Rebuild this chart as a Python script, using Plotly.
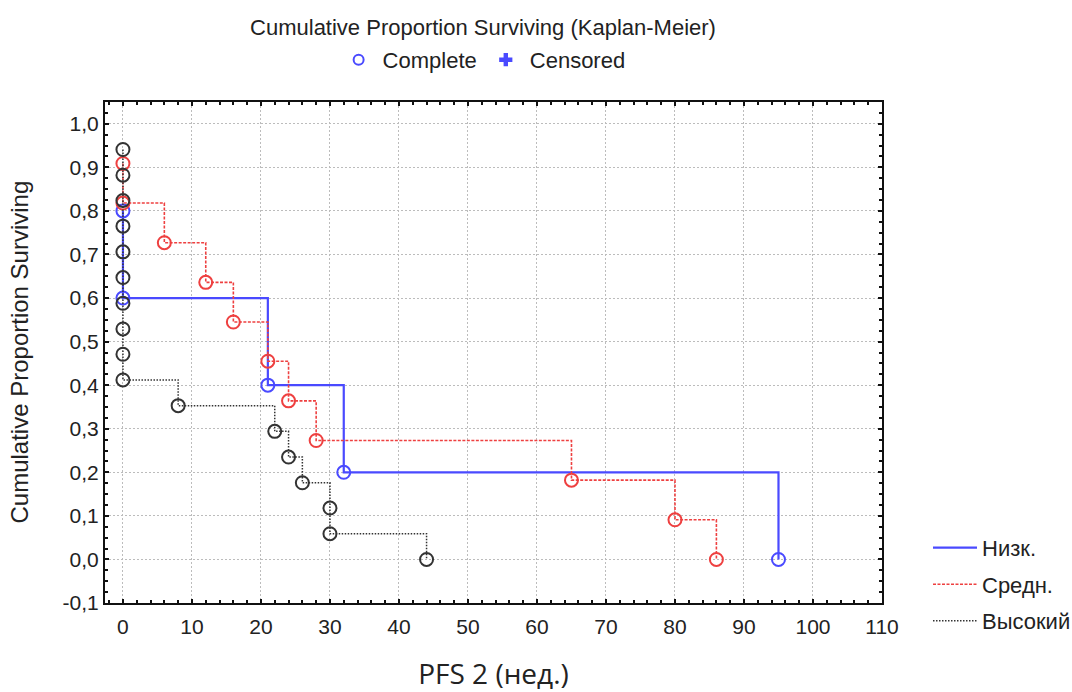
import plotly.graph_objects as go

# ---- data ----
series_names = ["Низк.", "Средн.", "Высокий"]
low_t = [0, 0, 21, 32, 95]
low_s = [0.8, 0.6, 0.4, 0.2, 0.0]
mid_t = [0, 0, 6, 12, 16, 21, 24, 28, 65, 80, 86]
mid_s = [0.909, 0.818, 0.727, 0.636, 0.545, 0.455, 0.364, 0.273, 0.182, 0.091, 0.0]
high_t = [0, 0, 0, 0, 0, 0, 0, 0, 0, 0, 8, 22, 24, 26, 30, 30, 44]
high_s = [0.941, 0.882, 0.824, 0.765, 0.706, 0.647, 0.588, 0.529, 0.471, 0.412,
          0.353, 0.294, 0.235, 0.176, 0.118, 0.059, 0.0]
marker_legend = ["Complete", "Censored"]

x_ticks = list(range(0, 111, 10))
y_ticks = [round(-0.1 + 0.1 * i, 1) for i in range(12)]
y_ticktext = [f"{v:.1f}".replace(".", ",") for v in y_ticks]

BLUE = "#4a4aff"
RED = "#ee4040"
DARK = "#333333"
FONT = "Liberation Sans, Arial, sans-serif"

fig = go.Figure()

styles = [
    (low_t, low_s, series_names[0], BLUE, "solid", 2.2),
    (mid_t, mid_s, series_names[1], RED, "3px,1.5px", 1.6),
    (high_t, high_s, series_names[2], DARK, "1.5px,1.5px", 1.5),
]
for i, (t, s, name, col, dash, w) in enumerate(styles):
    fig.add_trace(go.Scatter(
        x=t, y=s, name=name, mode="lines",
        line=dict(color=col, width=w, dash=dash, shape="hv"),
        legendgroup=f"g{i}", legend="legend",
    ))
    fig.add_trace(go.Scatter(
        x=t, y=s, name=name, mode="markers", showlegend=False,
        marker=dict(symbol="circle-open", size=13, color=col, line=dict(width=2, color=col)),
        legendgroup=f"g{i}",
    ))

# top marker legend
fig.add_trace(go.Scatter(
    x=[None], y=[None], name=marker_legend[0], mode="markers",
    marker=dict(symbol="circle-open", size=10, color=BLUE, line=dict(width=2, color=BLUE)),
    legend="legend2", showlegend=True,
))
fig.add_trace(go.Scatter(
    x=[None], y=[None], name=marker_legend[1], mode="markers",
    marker=dict(symbol="cross", size=11, color=BLUE, line=dict(width=0)),
    legend="legend2", showlegend=True,
))

axis_common = dict(
    showline=True, linecolor="#111", linewidth=2, mirror="allticks",
    ticks="inside", ticklen=4, tickwidth=1.5, tickcolor="#111",
    showgrid=True, gridcolor="#bcbcbc", griddash="1.5px,2.5px", gridwidth=1.2,
    zeroline=False, automargin=False,
    tickfont=dict(family=FONT, size=21, color="#222"),
)

L, R, T, B = 105, 190, 102, 89
plot_w = 1072 - L - R

fig.update_layout(
    width=1072, height=692,
    paper_bgcolor="white", plot_bgcolor="white",
    separators=", ",
    margin=dict(l=L, r=R, t=T, b=B, autoexpand=False),
    title=dict(text="Cumulative Proportion Surviving (Kaplan-Meier)",
               x=483 / 1072, xanchor="center", y=1 - 27 / 692, yanchor="middle",
               font=dict(family=FONT, size=22, color="#222")),
    xaxis=dict(range=[-2.6, 110], tickvals=x_ticks, ticklabelstandoff=4,
               minor=dict(dtick=2, ticks="inside", ticklen=3, tickcolor="#111", showgrid=False),
               title=dict(text="PFS 2 (нед.)", standoff=32,
                          font=dict(family="Open Sans", size=28, color="#222")),
               **axis_common),
    yaxis=dict(range=[-0.1, 1.05], tickvals=y_ticks, ticktext=y_ticktext,
               minor=dict(dtick=0.025, ticks="inside", ticklen=3, tickcolor="#111", showgrid=False),
               **axis_common),
    annotations=[dict(text="Cumulative Proportion Surviving", textangle=-90,
                      xref="paper", yref="paper", x=(19 - L) / plot_w, y=0.5,
                      xanchor="center", yanchor="middle", showarrow=False,
                      font=dict(family=FONT, size=24, color="#222"))],
    legend=dict(x=(928 - L) / plot_w, xanchor="left", y=0.152, yanchor="top",
                traceorder="grouped", tracegroupgap=5,
                font=dict(family=FONT, size=22, color="#222"),
                bgcolor="rgba(0,0,0,0)", itemwidth=44),
    legend2=dict(orientation="h", x=0.486, xanchor="center", y=1.084, yanchor="middle",
                 font=dict(family=FONT, size=22, color="#222"),
                 bgcolor="rgba(0,0,0,0)", itemwidth=38),
    showlegend=True,
)

fig.write_html("out.html", config={"displayModeBar": False},
               post_script="document.body.style.margin='0';document.body.style.overflow='hidden';")
